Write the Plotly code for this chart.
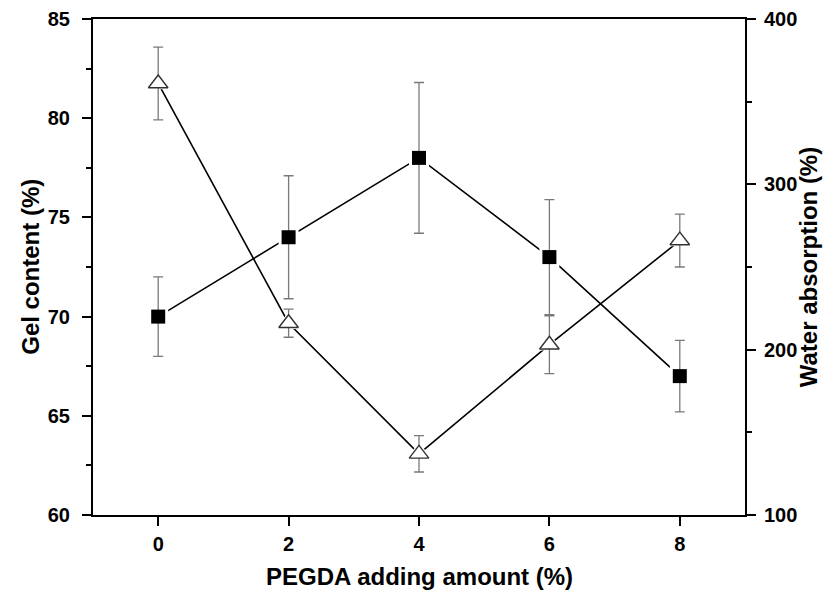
import plotly.graph_objects as go

pegda = [0, 2, 4, 6, 8]
gel_content = [70.0, 74.0, 78.0, 73.0, 67.0]
gel_err = [2.0, 3.1, 3.8, 2.9, 1.8]
water_abs = [361, 216, 137, 203, 266]
water_err = [22, 8.5, 11, 17.5, 16]

FONT = "Liberation Sans, Arial, sans-serif"
ERRC = "#7a7a7a"

fig = go.Figure()

# connecting lines
fig.add_trace(go.Scatter(x=pegda, y=gel_content, mode="lines",
                         line=dict(color="black", width=1.6), showlegend=False,
                         hoverinfo="skip"))
fig.add_trace(go.Scatter(x=pegda, y=water_abs, mode="lines", yaxis="y2",
                         line=dict(color="black", width=1.6), showlegend=False,
                         hoverinfo="skip"))
# white halos (gap around markers)
fig.add_trace(go.Scatter(x=pegda, y=gel_content, mode="markers",
                         marker=dict(symbol="square", size=20, color="white",
                                     line=dict(width=0)),
                         showlegend=False, hoverinfo="skip"))
fig.add_trace(go.Scatter(x=pegda, y=water_abs, mode="markers", yaxis="y2",
                         marker=dict(symbol="triangle-up", size=23, color="white",
                                     line=dict(width=0)),
                         showlegend=False, hoverinfo="skip"))
# markers with error bars
fig.add_trace(go.Scatter(x=pegda, y=gel_content, mode="markers", name="Gel content",
                         marker=dict(symbol="square", size=14, color="black",
                                     line=dict(width=0)),
                         error_y=dict(type="data", array=gel_err, visible=True,
                                      color=ERRC, thickness=1.3, width=5),
                         showlegend=False))
fig.add_trace(go.Scatter(x=pegda, y=water_abs, mode="markers", yaxis="y2",
                         name="Water absorption",
                         marker=dict(symbol="triangle-up", size=17, color="white",
                                     line=dict(width=1.4, color="#333333")),
                         error_y=dict(type="data", array=water_err, visible=True,
                                      color=ERRC, thickness=1.3, width=5),
                         showlegend=False))

tickfont = dict(family=FONT, size=20, color="black", weight="bold")
titlefont = dict(family=FONT, size=24, color="black", weight="bold")

common = dict(ticks="outside", ticklen=9, tickwidth=2, tickcolor="black",
              showline=True, linewidth=2, linecolor="black", showgrid=False,
              zeroline=False, tickfont=tickfont, automargin=False)

fig.update_layout(
    width=827, height=593,
    margin=dict(l=93, r=82, t=19, b=78, autoexpand=False),
    paper_bgcolor="white", plot_bgcolor="white",
    showlegend=False,
    xaxis=dict(range=[-1, 9], tickvals=[0, 2, 4, 6, 8], mirror=True,
               ticklabelstandoff=1, **common),
    yaxis=dict(range=[60, 85], tickvals=[60, 65, 70, 75, 80, 85],
               minor=dict(dtick=2.5, ticks="outside", ticklen=5, tickwidth=2,
                          tickcolor="black", showgrid=False),
               ticklabelstandoff=8, **common),
    yaxis2=dict(range=[100, 400], tickvals=[100, 200, 300, 400],
                minor=dict(dtick=50, ticks="outside", ticklen=5, tickwidth=2,
                           tickcolor="black", showgrid=False),
                overlaying="y", side="right", anchor="x",
                ticklabelstandoff=4, **common),
    annotations=[
        dict(text="PEGDA adding amount (%)", xref="paper", yref="paper",
             x=0.5, y=-0.123, xanchor="center", yanchor="middle",
             showarrow=False, font=titlefont),
        dict(text="Gel content (%)", xref="paper", yref="paper",
             x=-0.097, y=0.5, xanchor="center", yanchor="middle",
             textangle=-90, showarrow=False, font=titlefont),
        dict(text="Water absorption (%)", xref="paper", yref="paper",
             x=1.097, y=0.5, xanchor="center", yanchor="middle",
             textangle=-90, showarrow=False, font=titlefont),
    ],
)

fig.write_html("out.html", config={"displayModeBar": False},
               post_script="document.body.style.margin='0px';document.body.style.padding='0px';")
